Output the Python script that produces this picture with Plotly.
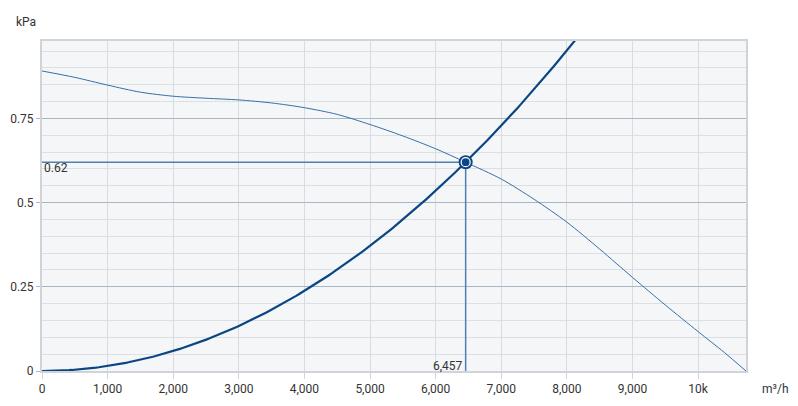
import numpy as np
import plotly.graph_objects as go

# Fan curve (flow m3/h, pressure kPa)
fan_flow = [0, 500, 1000, 1500, 2000, 2500, 3000, 3500, 4000, 4500, 5000, 5500, 6000, 6457, 7000, 7500, 8000, 8500, 9000, 9500, 10000, 10400, 10730]
fan_pressure = [0.891, 0.872, 0.849, 0.828, 0.816, 0.810, 0.805, 0.796, 0.782, 0.762, 0.732, 0.698, 0.660, 0.620, 0.570, 0.510, 0.442, 0.362, 0.278, 0.196, 0.117, 0.055, 0.0]

# Operating point
op_flow = 6457
op_pressure = 0.62

# System curve coefficient derived from operating point
sys_flow = np.linspace(0, 8200, 200)
sys_pressure = op_pressure * (sys_flow / op_flow) ** 2

x_tickvals = [0, 1000, 2000, 3000, 4000, 5000, 6000, 7000, 8000, 9000, 10000]
x_ticktext = ["0", "1,000", "2,000", "3,000", "4,000", "5,000", "6,000", "7,000", "8,000", "9,000", "10k"]
y_tickvals = [0, 0.25, 0.5, 0.75]
y_ticktext = ["0", "0.25", "0.5", "0.75"]

X_MAX = 10730
Y_MAX = 0.98

fig = go.Figure()

fig.add_trace(go.Scatter(x=fan_flow, y=fan_pressure, mode="lines",
                         line=dict(color="#3a6ea8", width=1, shape="spline", smoothing=0.8),
                         hoverinfo="skip", showlegend=False))
fig.add_trace(go.Scatter(x=sys_flow, y=sys_pressure, mode="lines",
                         line=dict(color="#0c4584", width=2.2),
                         hoverinfo="skip", showlegend=False))
# drop lines
fig.add_trace(go.Scatter(x=[0, op_flow, op_flow], y=[op_pressure, op_pressure, 0], mode="lines",
                         line=dict(color="#4f7fb3", width=1.5),
                         hoverinfo="skip", showlegend=False))
# operating point marker
fig.add_trace(go.Scatter(x=[op_flow], y=[op_pressure], mode="markers",
                         marker=dict(size=14, color="#0c4584"),
                         hoverinfo="skip", showlegend=False))
fig.add_trace(go.Scatter(x=[op_flow], y=[op_pressure], mode="markers",
                         marker=dict(size=9, color="#0c4584", line=dict(color="white", width=1.2)),
                         hoverinfo="skip", showlegend=False))

fig.add_annotation(x=0, y=op_pressure, text="0.62", showarrow=False,
                   xanchor="left", yanchor="top", xshift=0, yshift=3,
                   font=dict(size=12, color="#333"))
fig.add_annotation(x=op_flow, y=0, text="6,457", showarrow=False,
                   xanchor="right", yanchor="bottom", xshift=-1, yshift=-4,
                   font=dict(size=12, color="#333"))

fig.add_annotation(xref="paper", yref="paper", x=0, y=1.0, text="kPa", showarrow=False,
                   xanchor="right", yanchor="bottom", xshift=-4, yshift=10,
                   font=dict(size=12, color="#333"))
fig.add_annotation(xref="paper", yref="paper", x=1.0, y=0, text="m³/h", showarrow=False,
                   xanchor="left", yanchor="middle", xshift=14, yshift=-18,
                   font=dict(size=12, color="#333"))

fig.update_layout(
    width=782, height=390,
    margin=dict(l=34, r=44, t=33, b=27, autoexpand=False),
    paper_bgcolor="white",
    plot_bgcolor="#f4f6f8",
    font=dict(family="Roboto, sans-serif", size=12, color="#333"),
    showlegend=False,
)
fig.update_xaxes(range=[0, X_MAX], tickvals=x_tickvals, ticktext=x_ticktext, automargin=False,
                 showgrid=True, gridcolor="#d8dbdf", gridwidth=1,
                 zeroline=False, showline=True, linecolor="#d0d3d7", linewidth=2, mirror=True,
                 ticks="outside", ticklen=6, tickcolor="#d0d3d7", fixedrange=True)
fig.update_yaxes(range=[0, Y_MAX], tickvals=y_tickvals, ticktext=y_ticktext, automargin=False,
                 showgrid=True, gridcolor="#a8b6c6", gridwidth=1,
                 minor=dict(dtick=0.05, showgrid=True, gridcolor="#dcdfe3", gridwidth=1),
                 zeroline=False, showline=True, linecolor="#d0d3d7", linewidth=2, mirror=True,
                 ticks="outside", ticklen=4, tickcolor="#a8b6c6", fixedrange=True)

fig.write_html("out.html")
